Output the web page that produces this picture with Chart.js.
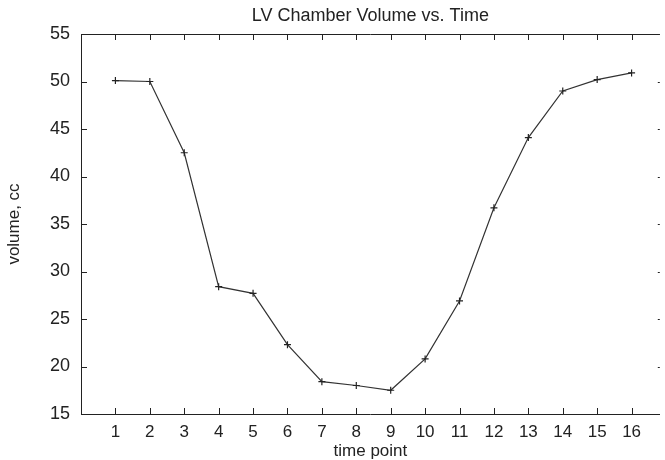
<!DOCTYPE html>
<html>
<head>
<meta charset="utf-8">
<title>LV Chamber Volume vs. Time</title>
<script src="https://cdn.jsdelivr.net/npm/chart.js@4.4.1/dist/chart.umd.min.js"></script>
<style>
    html, body { margin: 0; padding: 0; background: #fff; overflow: hidden; }
    #chart { display: block; }
</style>
</head>
<body>
<canvas id="chart" width="665" height="460"></canvas>
<script>
// data
const timePoints = [1, 2, 3, 4, 5, 6, 7, 8, 9, 10, 11, 12, 13, 14, 15, 16];
const volumes = [50.1, 50.0, 42.5, 28.4, 27.7, 22.3, 18.4, 18.0, 17.5, 20.8, 26.9, 36.7, 44.1, 49.0, 50.2, 50.9];
const yTicks = [15, 20, 25, 30, 35, 40, 45, 50, 55];

const INK = '#222';
const FONT = "'Liberation Sans', Arial, Helvetica, sans-serif";

// matlab style frame: top line plus inward tick marks; the right edge is cut off in the scan
const framePlugin = {
    id: 'frame',
    afterDraw(chart) {
        const { ctx, chartArea: a, scales } = chart;
        const len = 6;
        ctx.save();
        ctx.strokeStyle = INK;
        ctx.lineWidth = 1;
        ctx.beginPath();
        ctx.moveTo(a.left, a.top + 0.5);
        ctx.lineTo(a.right, a.top + 0.5);
        timePoints.forEach(t => {
            const x = Math.round(scales.x.getPixelForValue(t)) + 0.5;
            ctx.moveTo(x, a.bottom);
            ctx.lineTo(x, a.bottom - len);
            ctx.moveTo(x, a.top);
            ctx.lineTo(x, a.top + len);
        });
        yTicks.forEach(v => {
            const y = Math.round(scales.y.getPixelForValue(v)) + 0.5;
            ctx.moveTo(a.left, y);
            ctx.lineTo(a.left + len, y);
            ctx.moveTo(a.right, y);
            ctx.lineTo(a.right - 2, y);
        });
        ctx.stroke();
        ctx.restore();
    }
};

const ctx = document.getElementById('chart').getContext('2d');
new Chart(ctx, {
    type: 'line',
    data: {
        datasets: [{
            label: 'volume',
            data: timePoints.map((t, i) => ({ x: t, y: volumes[i] })),
            borderColor: '#333',
            borderWidth: 1.2,
            pointStyle: 'cross',
            pointRadius: 3.5,
            pointBorderWidth: 1.2,
            pointBorderColor: '#222',
            tension: 0,
            fill: false
        }]
    },
    options: {
        responsive: false,
        animation: false,
        events: [],
        layout: { padding: { left: 0, right: 0, top: 0, bottom: 0 } },
        plugins: {
            legend: { display: false },
            tooltip: { enabled: false },
            title: {
                display: true,
                text: 'LV Chamber Volume vs. Time',
                color: INK,
                fullSize: false,
                font: { family: FONT, size: 18, weight: 'normal', lineHeight: 1.2 },
                padding: { top: 5, bottom: 7.4 }
            }
        },
        scales: {
            x: {
                type: 'linear',
                min: 0,
                max: 16.82,
                afterBuildTicks: scale => { scale.ticks = timePoints.map(v => ({ value: v })); },
                afterFit: scale => { scale.height = 46; },
                grid: { display: false, drawTicks: false },
                border: { display: true, color: INK, width: 1 },
                ticks: {
                    color: INK,
                    padding: 8,
                    maxRotation: 0,
                    autoSkip: false,
                    font: { family: FONT, size: 17 }
                },
                title: {
                    display: true,
                    text: 'time point',
                    color: INK,
                    font: { family: FONT, size: 17, lineHeight: 1 },
                    padding: { top: 0, bottom: 0 }
                }
            },
            y: {
                min: 15,
                max: 55,
                afterBuildTicks: scale => { scale.ticks = yTicks.map(v => ({ value: v })); },
                afterFit: scale => { scale.width = 81; },
                grid: { display: false, drawTicks: false },
                border: { display: true, color: INK, width: 1 },
                ticks: {
                    color: INK,
                    padding: 11,
                    font: { family: FONT, size: 18 }
                },
                title: {
                    display: true,
                    text: 'volume, cc',
                    color: INK,
                    font: { family: FONT, size: 17, lineHeight: 1.2 },
                    padding: { top: 4, bottom: 0 }
                }
            }
        }
    },
    plugins: [framePlugin]
});
</script>
</body>
</html>
